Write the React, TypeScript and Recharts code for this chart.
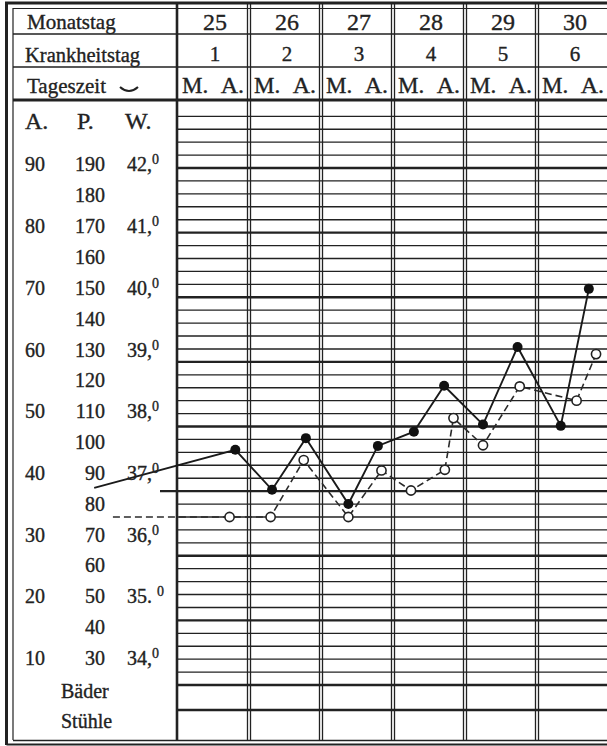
import { LineChart, Line, XAxis, YAxis, ReferenceLine, Customized } from "recharts";

// Fieberkurve: Monatstag 25–30, morning (M.) and evening (A.) readings
const MONTH_DAYS = [25, 26, 27, 28, 29, 30];
const ILLNESS_DAYS = [1, 2, 3, 4, 5, 6];
const DAY_TICKS = [25.5, 26.5, 27.5, 28.5, 29.5, 30.5];

// solid curve, filled dots (first point is the run-in from the day before, no dot)
const SOLID_T = [23.85, 25.81, 26.32, 26.79, 27.38, 27.79, 28.29, 28.71, 29.25, 29.73, 30.33, 30.72];
const SOLID_W = [37.05, 37.64, 37.02, 37.82, 36.8, 37.7, 37.92, 38.63, 38.03, 39.23, 38.01, 40.13];

// dashed curve, open circles (same scale as the W. column)
const DASHED_T = [24.11, 25.73, 26.3, 26.76, 27.38, 27.84, 28.25, 28.72, 28.84, 29.25, 29.76, 30.55, 30.82];
const DASHED_W = [36.6, 36.6, 36.6, 37.48, 36.6, 37.32, 37.01, 37.33, 38.13, 37.71, 38.62, 38.4, 39.12];

// scale columns at the left
const W_TICKS = [42, 41, 40, 39, 38, 37, 36, 35, 34];
const W_TICK_LABELS = ["42,0", "41,0", "40,0", "39,0", "38,0", "37,0", "36,0", "35. 0", "34,0"];
const P_LABELS = [190, 180, 170, 160, 150, 140, 130, 120, 110, 100, 90, 80, 70, 60, 50, 40, 30];
const A_LABELS = [90, 80, 70, 60, 50, 40, 30, 20, 10];

const W = 607;
const H = 746;
const FONT = "'Liberation Serif', 'Times New Roman', serif";
const INK = "#222";
// old print: letters a little heavier than the modern face
const HEAVY = { stroke: INK, strokeWidth: 0.35 };

// page geometry: 72px per day, day 25 starts at x=177; 64.6px per degree, 42,0 at y=168
const X_DOMAIN = [25 - 177 / 72, 25 + (W - 177) / 72];
const Y_DOMAIN = [42 - (H - 168) / 64.625, 42 + 168 / 64.625];
// the printed scale numbers sit slightly tighter than the ruling
const LABEL_DOMAIN = [34 - (H - 658) / 61.69, 42 + 164.5 / 61.69];

const tAt = (px: number) => X_DOMAIN[0] + px / 72;
const wAt = (py: number) => Y_DOMAIN[1] - py / 64.625;

const solidRows = SOLID_T.map((t, i) => ({ t, w: SOLID_W[i] }));
const dashedRows = DASHED_T.map((t, i) => ({ t, w: DASHED_W[i] }));
const pTicks = P_LABELS.map((p) => 34 + (p - 30) / 20);
const aTicks = A_LABELS.map((a) => 34 + (a - 10) / 10);

const rules: number[] = [];
for (let k = 0; k <= 44; k++) rules.push(34 + k * 0.2);

function DayTick({ x, payload }: any) {
  const i = DAY_TICKS.indexOf(payload.value);
  return (
    <g fontFamily={FONT} fill={INK} {...HEAVY}>
      <text x={x + 2} y={30} fontSize={24} textAnchor="middle">{MONTH_DAYS[i]}</text>
      <text x={x + 2} y={61} fontSize={21} textAnchor="middle">{ILLNESS_DAYS[i]}</text>
      <text x={x - 31} y={93} fontSize={23}>M.</text>
      <text x={x + 31} y={93} fontSize={24} textAnchor="end">A.</text>
    </g>
  );
}

function WTick({ y, payload }: any) {
  const label = W_TICK_LABELS[W_TICKS.indexOf(payload.value)] ?? "";
  return (
    <text x={127} y={y + 7} fontSize={20} fontFamily={FONT} fill={INK} {...HEAVY}>
      {label.slice(0, -1)}
      <tspan dy={-7} fontSize={14}>{label.slice(-1)}</tspan>
    </text>
  );
}

function PTick({ y, payload }: any) {
  return (
    <text x={105} y={y + 7} fontSize={20} fontFamily={FONT} fill={INK} textAnchor="end" {...HEAVY}>
      {Math.round(30 + (payload.value - 34) * 20)}
    </text>
  );
}

function ATick({ y, payload }: any) {
  return (
    <text x={25} y={y + 7} fontSize={20} fontFamily={FONT} fill={INK} {...HEAVY}>
      {Math.round(10 + (payload.value - 34) * 10)}
    </text>
  );
}

function Frame() {
  return (
    <g stroke={INK} fill="none">
      <path d={`M6.5 745 V3 H${W}`} strokeWidth={3} />
      <path d={`M13 740 V8.5 H${W}`} strokeWidth={1.2} />
      <path d={`M13 740.5 H${W}`} strokeWidth={1.4} />
      <path d={`M6.5 744.5 H${W}`} strokeWidth={2} />
      <path d={`M13 34 H${W} M13 67 H${W}`} strokeWidth={1.3} />
      <path d={`M13 100 H${W}`} strokeWidth={3} />
      <path d="M120 87 Q129 95 138 87" strokeWidth={2} />
      <g fill={INK} fontFamily={FONT} {...HEAVY}>
        <text x={27} y={29} fontSize={21}>Monatstag</text>
        <text x={25} y={62} fontSize={20.5}>Krankheitstag</text>
        <text x={27} y={93} fontSize={21}>Tageszeit</text>
        <text x={25} y={129} fontSize={24}>A.</text>
        <text x={77} y={129} fontSize={24}>P.</text>
        <text x={125} y={129} fontSize={24}>W.</text>
        <text x={61} y={698} fontSize={20}>Bäder</text>
        <text x={61} y={728} fontSize={20}>Stühle</text>
      </g>
    </g>
  );
}

const solidDot = (p: any) =>
  p.index === 0 ? <g key={`s${p.index}`} /> : <circle key={`s${p.index}`} cx={p.cx} cy={p.cy} r={5} fill="#111" />;
const openDot = (p: any) =>
  p.index === 0 ? (
    <g key={`d${p.index}`} />
  ) : (
    <circle key={`d${p.index}`} cx={p.cx} cy={p.cy} r={4.6} fill="#fff" stroke="#222" strokeWidth={1.6} />
  );

export default function App() {
  const vLine = (x: number, key: string, width: number) => (
    <ReferenceLine
      key={key}
      xAxisId="t"
      yAxisId="w"
      ifOverflow="visible"
      segment={[{ x, y: wAt(3) }, { x, y: wAt(741) }]}
      stroke={INK}
      strokeWidth={width}
    />
  );
  return (
    <div style={{ position: "absolute", left: 0, top: 0, width: W, height: H, background: "#fff", overflow: "hidden" }}>
      <LineChart width={W} height={H} margin={{ top: 0, right: 0, bottom: 0, left: 0 }}>
        <Customized component={<Frame />} />
        <XAxis
          xAxisId="t"
          dataKey="t"
          type="number"
          orientation="top"
          mirror
          domain={X_DOMAIN}
          allowDataOverflow
          ticks={DAY_TICKS}
          interval={0}
          axisLine={false}
          tickLine={false}
          tick={<DayTick />}
        />
        <YAxis yAxisId="w" dataKey="w" type="number" domain={Y_DOMAIN} allowDataOverflow hide />
        <YAxis yAxisId="lblW" type="number" mirror domain={LABEL_DOMAIN} allowDataOverflow ticks={W_TICKS} interval={0} axisLine={false} tickLine={false} tick={<WTick />} />
        <YAxis yAxisId="lblP" type="number" mirror domain={LABEL_DOMAIN} allowDataOverflow ticks={pTicks} interval={0} axisLine={false} tickLine={false} tick={<PTick />} />
        <YAxis yAxisId="lblA" type="number" mirror domain={LABEL_DOMAIN} allowDataOverflow ticks={aTicks} interval={0} axisLine={false} tickLine={false} tick={<ATick />} />

        {rules.map((v, k) => {
          const deg = k % 5 === 0;
          return (
            <ReferenceLine
              key={`r${k}`}
              xAxisId="t"
              yAxisId="w"
              ifOverflow="visible"
              segment={[{ x: k === 15 ? tAt(160) : 25, y: v }, { x: X_DOMAIN[1], y: v }]}
              stroke={INK}
              strokeWidth={deg ? 2.4 : 1.35}
            />
          );
        })}
        <ReferenceLine
          xAxisId="t"
          yAxisId="w"
          ifOverflow="visible"
          segment={[{ x: 25, y: wAt(710) }, { x: X_DOMAIN[1], y: wAt(710) }]}
          stroke={INK}
          strokeWidth={2.4}
        />
        {vLine(25, "v25", 2.6)}
        {MONTH_DAYS.slice(1).flatMap((d) => [vLine(d - 0.021, `a${d}`, 1.3), vLine(d + 0.021, `b${d}`, 1.3)])}

        <Line
          xAxisId="t"
          yAxisId="w"
          data={dashedRows}
          dataKey="w"
          type="linear"
          stroke="#2a2a2a"
          strokeWidth={1.6}
          strokeDasharray="7 4"
          dot={openDot}
          activeDot={false}
          isAnimationActive={false}
        />
        <Line
          xAxisId="t"
          yAxisId="w"
          data={solidRows}
          dataKey="w"
          type="linear"
          stroke="#1a1a1a"
          strokeWidth={1.9}
          dot={solidDot}
          activeDot={false}
          isAnimationActive={false}
        />
      </LineChart>
    </div>
  );
}
